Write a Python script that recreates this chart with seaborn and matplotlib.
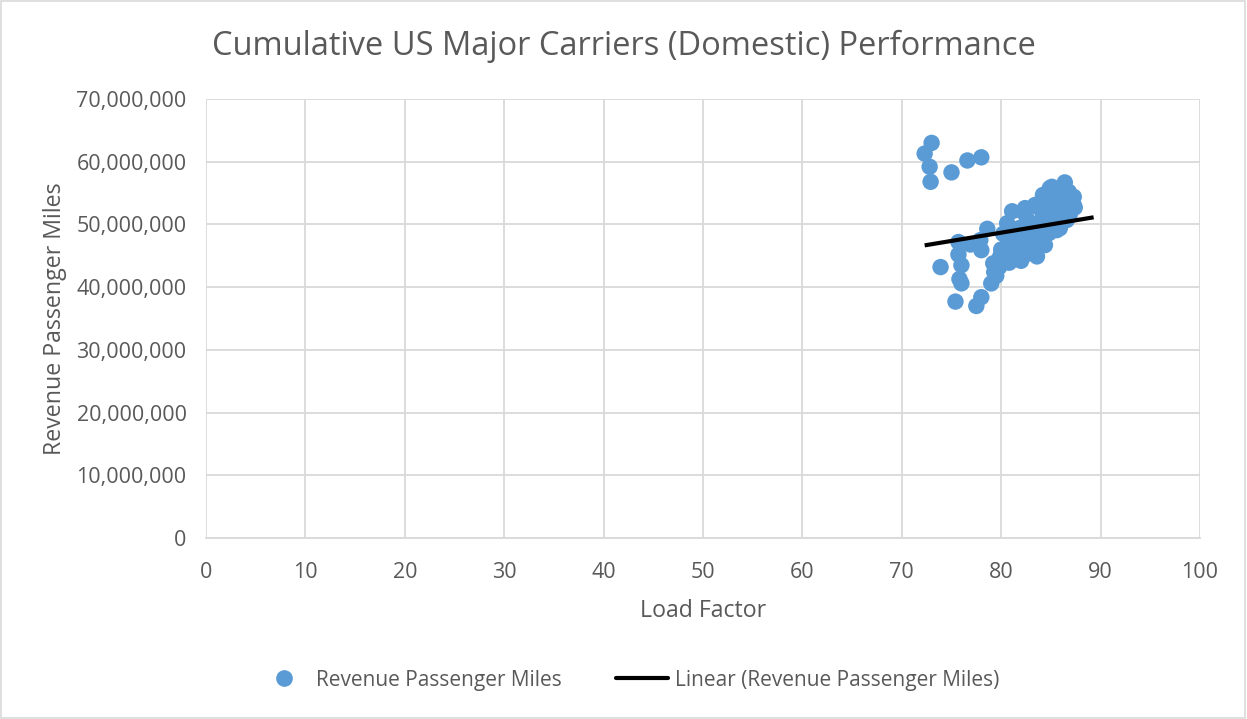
import numpy as np
import pandas as pd
import seaborn as sns
import matplotlib.pyplot as plt
from matplotlib.ticker import FuncFormatter, MultipleLocator
from matplotlib.lines import Line2D
from matplotlib.patches import Rectangle

# load factor (%) and revenue passenger miles (millions)
load_factor = [
    73.0, 72.3, 72.8, 72.9, 75.0, 76.6, 78.0,
    73.9, 75.4, 77.5, 78.0, 76.0, 75.8, 76.0, 75.7, 75.7, 76.9, 78.0, 77.9, 78.6,
    79.0, 79.5, 79.2, 79.9, 80.3, 80.8,
    80.6, 81.1, 82.2, 82.4, 83.4, 83.6, 84.2, 84.9, 85.1, 86.4, 87.3, 87.3, 87.4,
    86.3, 85.6, 85.2, 84.6, 86.6, 84.9, 84.6, 85.6, 85.9, 86.6, 82.9, 83.2, 81.6,
    80.6, 80.6, 82.6, 84.2, 80.9, 81.2, 81.2, 82.2, 83.2, 83.6, 84.4, 83.2, 81.9,
    82.5, 81.5, 80.2,
    80.0, 80.8, 81.8, 82.4, 83.0, 83.8, 84.8, 85.4, 86.0, 86.9, 85.6, 84.0, 82.6,
    81.8, 80.4, 79.6, 82.0, 83.4,
    85.8, 86.8, 87.0, 84.6, 86.2, 85.0, 79.3, 79.8,
]
rpm_millions = [
    63.0, 61.3, 59.2, 56.8, 58.3, 60.2, 60.7,
    43.2, 37.7, 37.0, 38.4, 40.6, 41.3, 43.5, 45.2, 47.2, 46.8, 45.9, 47.5, 49.3,
    40.6, 41.8, 43.8, 44.9, 44.0, 43.9,
    49.1, 52.1, 52.0, 52.6, 53.1, 52.8, 54.7, 55.8, 56.0, 56.7, 54.4, 53.1, 52.7,
    52.3, 53.4, 53.1, 51.8, 51.8, 51.2, 49.6, 49.1, 49.4, 50.7, 49.1, 49.6, 48.6,
    50.2, 48.0, 47.5, 47.0, 46.5, 45.9, 44.9, 44.9, 45.4, 44.9, 46.7, 47.0, 47.0,
    46.0, 47.8, 48.5,
    46.0, 47.2, 46.2, 45.2, 46.4, 48.4, 48.6, 50.4, 51.0, 51.6, 52.2, 50.6, 50.8,
    49.4, 45.6, 43.0, 44.2, 46.2,
    54.6, 55.2, 53.8, 53.6, 53.0, 54.2, 42.4, 43.2,
]
trend_span = [72.3, 89.3]  # excel trendline with a short forward forecast

df = pd.DataFrame({"Load Factor": load_factor,
                   "Revenue Passenger Miles": np.array(rpm_millions) * 1e6})

sns.set_theme(style="white")
plt.rcParams["font.family"] = ["Open Sans", "DejaVu Sans"]

fig = plt.figure(figsize=(12.47, 7.19), dpi=100)
ax = fig.add_axes([0.1652, 0.2517, 0.7971, 0.6106])

text_col = "#595959"
grid_col = "#D9D9D9"
dot_col = "#5B9BD5"

sns.scatterplot(data=df, x="Load Factor", y="Revenue Passenger Miles", ax=ax,
                color=dot_col, s=140, edgecolor="none", zorder=3, legend=False)

slope, intercept = np.polyfit(df["Load Factor"], df["Revenue Passenger Miles"], 1)
tx = np.array(trend_span)
ax.plot(tx, slope * tx + intercept, color="black", lw=3, zorder=4,
        solid_capstyle="butt")

ax.set_xlim(0, 100)
ax.set_ylim(0, 70e6)
ax.xaxis.set_major_locator(MultipleLocator(10))
ax.yaxis.set_major_locator(MultipleLocator(10e6))
ax.yaxis.set_major_formatter(FuncFormatter(lambda v, p: f"{int(v):,}"))
ax.grid(True, color=grid_col, lw=1.3)
ax.set_axisbelow(True)
for sp in ax.spines.values():
    sp.set_visible(False)
ax.spines["bottom"].set_visible(True)
ax.spines["bottom"].set_color(grid_col)
ax.spines["bottom"].set_linewidth(1.3)
ax.tick_params(axis="both", length=0, labelsize=15.5, colors=text_col)
ax.tick_params(axis="y", pad=14)
ax.tick_params(axis="x", pad=17)

ax.set_xlabel("Load Factor", fontsize=16.7, color=text_col, labelpad=12)
ax.set_ylabel("Revenue Passenger Miles", fontsize=16.7, color=text_col, labelpad=7)
fig.text(0.5, 0.935, "Cumulative US Major Carriers (Domestic) Performance",
         ha="center", va="center", fontsize=23.5, color=text_col)

handles = [
    Line2D([], [], marker="o", ls="none", color=dot_col, markersize=11),
    Line2D([], [], color="black", lw=3),
]
fig.legend(handles, ["Revenue Passenger Miles", "Linear (Revenue Passenger Miles)"],
           loc="center", bbox_to_anchor=(0.504, 0.054), ncol=2, frameon=False,
           fontsize=15, labelcolor=text_col, handlelength=2.5, columnspacing=2.6,
           handletextpad=0.3)

fig.patches.append(Rectangle((0.001, 0.001), 0.997, 0.997, transform=fig.transFigure,
                             fill=False, edgecolor=grid_col, lw=1.2))

fig.savefig("out.png", dpi=100)
